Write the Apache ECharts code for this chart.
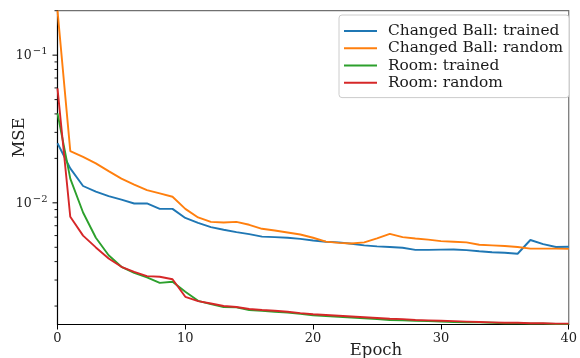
<!DOCTYPE html>
<html>
<head>
<meta charset="utf-8">
<script src="https://cdn.jsdelivr.net/npm/echarts@6/dist/echarts.min.js"></script>
<style>
  html, body { margin: 0; padding: 0; background: #fff; }
  #chart { width: 580px; height: 358px; }
</style>
</head>
<body>
<div id="chart"></div>
<script>
// epochs on the x axis
const epochs = [0, 1, 2, 3, 4, 5, 6, 7, 8, 9, 10, 11, 12, 13, 14, 15, 16, 17, 18, 19, 20,
  21, 22, 23, 24, 25, 26, 27, 28, 29, 30, 31, 32, 33, 34, 35, 36, 37, 38, 39, 40];

const seriesNames = ['Changed Ball: trained', 'Changed Ball: random', 'Room: trained', 'Room: random'];
const seriesColors = ['#1f77b4', '#ff7f0e', '#2ca02c', '#d62728'];

// MSE values
const ballTrained = [0.0253, 0.0171, 0.0130, 0.0119, 0.0111, 0.0105, 0.0099, 0.0099, 0.0091, 0.0091,
  0.0079, 0.00732, 0.00684, 0.00657, 0.00633, 0.00614, 0.0059, 0.00586, 0.0058, 0.0057,
  0.00556, 0.00545, 0.0054, 0.00528, 0.00515, 0.00507, 0.00502, 0.00496, 0.0048, 0.0048,
  0.00482, 0.00483, 0.00478, 0.0047, 0.00463, 0.00459, 0.00452, 0.0056, 0.00525, 0.00502, 0.00504];
const ballRandom = [0.2, 0.0224, 0.0205, 0.0185, 0.0164, 0.0146, 0.0133, 0.0122, 0.0116, 0.011,
  0.0091, 0.00796, 0.00743, 0.00736, 0.00743, 0.0071, 0.00667, 0.0065, 0.0063, 0.0061,
  0.0058, 0.00546, 0.00536, 0.0053, 0.0054, 0.00574, 0.00617, 0.00586, 0.00574, 0.00563,
  0.0055, 0.00545, 0.0054, 0.0052, 0.00515, 0.0051, 0.00502, 0.0049, 0.0049, 0.0049, 0.00488];
const roomTrained = [0.0403, 0.0146, 0.0086, 0.0058, 0.00442, 0.00369, 0.00336, 0.00313, 0.00287, 0.00292,
  0.0025, 0.00217, 0.00206, 0.00197, 0.00196, 0.00188, 0.00186, 0.00183, 0.00181, 0.00177,
  0.00173, 0.00171, 0.00169, 0.00167, 0.00165, 0.00163, 0.00161, 0.0016, 0.00159, 0.00158,
  0.00157, 0.00156, 0.00155, 0.00155, 0.00154, 0.00153, 0.00153, 0.00152, 0.00152, 0.00151, 0.00151];
const roomRandom = [0.0595, 0.00804, 0.0060, 0.00499, 0.0042, 0.00369, 0.00341, 0.00319, 0.00316, 0.00304,
  0.00231, 0.00216, 0.00208, 0.002, 0.00197, 0.00191, 0.00188, 0.00186, 0.00183, 0.00179,
  0.00176, 0.00174, 0.00172, 0.0017, 0.00168, 0.00166, 0.00164, 0.00163, 0.00161, 0.0016,
  0.00159, 0.00158, 0.00157, 0.00156, 0.00155, 0.00154, 0.00154, 0.00153, 0.00153, 0.00152, 0.00152];

// y tick labels (powers of ten) and minor tick values
const yMajorTicks = [0.01, 0.1];
const yMinorTicks = [0.002, 0.003, 0.004, 0.005, 0.006, 0.007, 0.008, 0.009,
  0.02, 0.03, 0.04, 0.05, 0.06, 0.07, 0.08, 0.09, 0.2];

const allValues = [ballTrained, ballRandom, roomTrained, roomRandom];
const serif = '"DejaVu Serif", serif';

const chart = echarts.init(document.getElementById('chart'), null, { renderer: 'canvas' });

function pairs(vals) {
  let out = [];
  for (let i = 0; i < epochs.length; i++) out.push([epochs[i], vals[i]]);
  return out;
}

const series = seriesNames.map((name, i) => ({
  name: name,
  type: 'line',
  data: pairs(allValues[i]),
  showSymbol: false,
  symbol: 'none',
  color: seriesColors[i],
  lineStyle: { width: 1.9, color: seriesColors[i] },
  animation: false,
  z: 2 + i
}));

chart.setOption({
  animation: false,
  grid: {
    left: 57.5, right: 9.3, top: 10.7, bottom: 33.5,
    show: true, borderColor: '#707070', borderWidth: 1.2, backgroundColor: 'transparent'
  },
  legend: {
    orient: 'vertical',
    left: 339, top: 15,
    data: seriesNames,
    icon: 'path://M0,0 L33,0 L33,2 L0,2 Z',
    itemWidth: 33, itemHeight: 2,
    itemGap: 2,
    padding: [8.5, 6, 7.3, 5],
    borderColor: '#cccccc', borderWidth: 1, borderRadius: 3,
    backgroundColor: '#ffffff',
    textStyle: { fontFamily: serif, fontSize: 15.4, lineHeight: 15.2, color: '#1a1a1a', padding: [0, 0, 0, 6] }
  },
  xAxis: {
    type: 'value', min: 0, max: 40, interval: 10,
    axisLine: { show: true, lineStyle: { color: '#000', width: 1.1 } },
    axisTick: { show: true, length: 5, lineStyle: { color: '#000', width: 1 } },
    axisLabel: { fontFamily: serif, fontSize: 13, color: '#222', margin: 8 },
    splitLine: { show: false }
  },
  yAxis: {
    type: 'log', logBase: 10, min: 0.0015, max: 0.2,
    axisLine: { show: true, onZero: false, lineStyle: { color: '#000', width: 1.1 } },
    axisTick: { show: false },
    splitLine: { show: false },
    axisLabel: {
      interval: 0, margin: 10, color: '#222',
      formatter: function (v) {
        const p = Math.log10(v);
        if (Math.abs(p - Math.round(p)) > 1e-6) return '';
        return '{a|10}{b|\u2212' + Math.abs(Math.round(p)) + '}';
      },
      rich: {
        a: { fontFamily: serif, fontSize: 12.5, color: '#222', padding: [2, 0, 0, 0] },
        b: { fontFamily: serif, fontSize: 10, color: '#222', padding: [0, 0, 7, 1] }
      }
    }
  },
  series: series
});

// ticks on the log axis (major and minor), placed with the axis scale
let g = [];
yMajorTicks.forEach(v => {
  const y = chart.convertToPixel({ yAxisIndex: 0 }, v);
  g.push({ type: 'line', shape: { x1: 52.5, y1: y, x2: 57.5, y2: y }, style: { stroke: '#000', lineWidth: 1 }, silent: true });
});
yMinorTicks.forEach(v => {
  const y = chart.convertToPixel({ yAxisIndex: 0 }, v);
  g.push({ type: 'line', shape: { x1: 54.5, y1: y, x2: 57.5, y2: y }, style: { stroke: '#000', lineWidth: 0.9 }, silent: true });
});
// axis titles
g.push({ type: 'text', x: 376, y: 351, style: { text: 'Epoch', font: '16.5px "DejaVu Serif"', fill: '#222', align: 'center', verticalAlign: 'middle' } });
g.push({ type: 'text', x: 19.5, y: 137.5, rotation: Math.PI / 2, style: { text: 'MSE', font: '16.5px "DejaVu Serif"', fill: '#222', align: 'center', verticalAlign: 'middle' } });
chart.setOption({ graphic: g });
</script>
</body>
</html>
